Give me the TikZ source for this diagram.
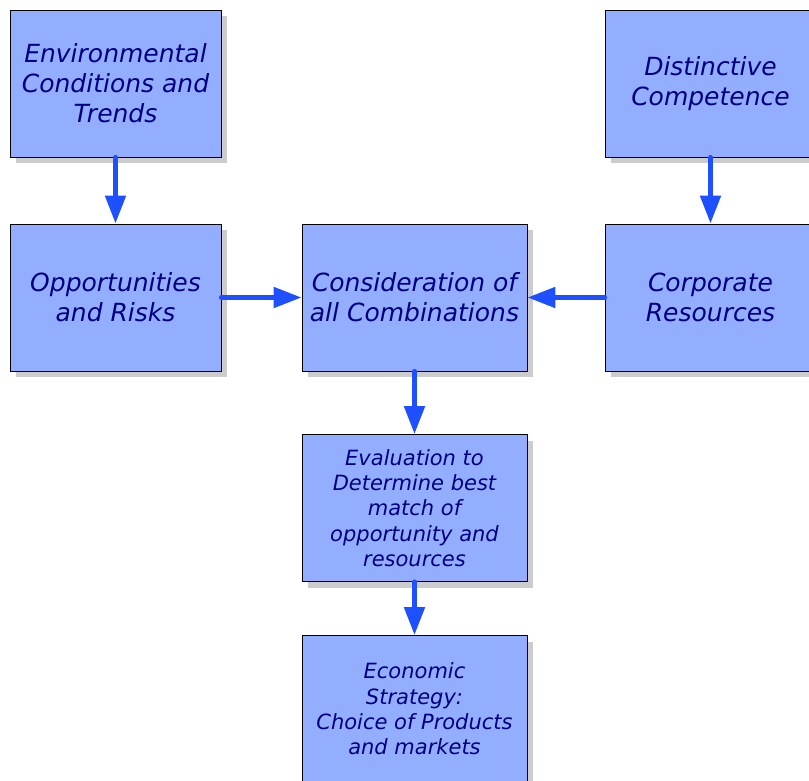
\documentclass[tikz,border=0pt]{standalone}
\usepackage{fontspec}
\setmainfont{DejaVu Sans}
\usetikzlibrary{arrows.meta,shadows}
\definecolor{boxfill}{RGB}{148,174,255}
\definecolor{boxtext}{RGB}{0,0,128}
\definecolor{arrowblue}{RGB}{30,80,255}
\definecolor{shadowgray}{RGB}{204,204,204}
\begin{document}
\begin{tikzpicture}[x=1pt,y=-1pt,
  boxbase/.style={draw=black,line width=0.8pt,fill=boxfill,text=boxtext,
    inner sep=0pt,align=center,
    drop shadow={shadow xshift=6pt,shadow yshift=-6pt,fill=shadowgray,opacity=1}},
  bigbox/.style={boxbase,minimum width=211pt,minimum height=147pt,
    font=\fontsize{25}{30}\selectfont\itshape},
  midbox/.style={boxbase,minimum width=225pt,minimum height=147pt,
    font=\fontsize{25}{30}\selectfont\itshape},
  smallbox/.style={boxbase,minimum width=225pt,minimum height=147pt,
    font=\fontsize{21}{25.3}\selectfont\itshape},
  conn/.style={arrowblue,line width=5pt,line cap=round,
    -{Triangle[width=20pt,length=28pt,line cap=butt]}}]
\useasboundingbox (0,0) rectangle (809,781);
\fill[white] (0,0) rectangle (809,781);
\node[bigbox] (env) at (115.5,83.5) {Environmental\\Conditions and\\Trends};
\node[bigbox] (dist) at (710.5,83.5) {Distinctive\\Competence};
\node[bigbox] (opp) at (115.5,297.5) {Opportunities\\and Risks};
\node[midbox] (cons) at (414.5,297.5) {Consideration of\\all Combinations};
\node[bigbox] (corp) at (710.5,297.5) {Corporate\\Resources};
\node[smallbox] (eval) at (414.5,508) {Evaluation to\\Determine best\\match of\\opportunity and\\resources};
\node[smallbox] (econ) at (414.5,709) {Economic\\Strategy:\\Choice of Products\\and markets};
\draw[conn] (env.south) -- (opp.north);
\draw[conn] (dist.south) -- (corp.north);
\draw[conn] (opp.east) -- (cons.west);
\draw[conn] (corp.west) -- (cons.east);
\draw[conn] (cons.south) -- (eval.north);
\draw[conn] (eval.south) -- (econ.north);
\end{tikzpicture}
\end{document}
